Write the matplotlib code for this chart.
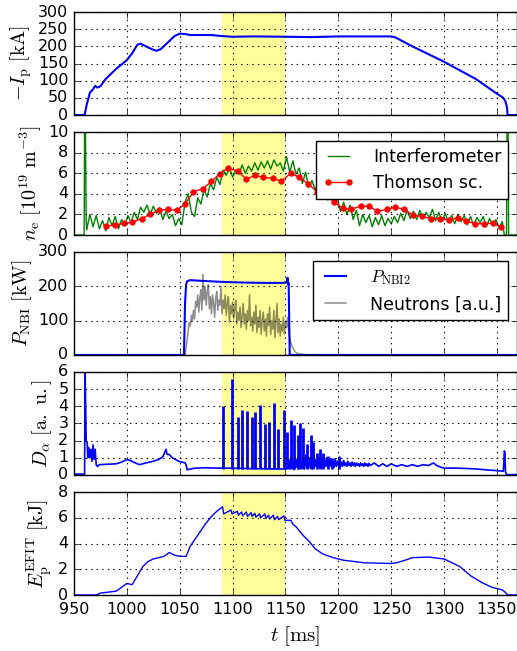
import numpy as np
from matplotlib import pyplot as plt

plt.style.use('classic')
plt.rcParams['mathtext.fontset'] = 'cm'
plt.rcParams['savefig.facecolor'] = 'white'

# plasma current
ip_t = [950, 960, 962, 965, 968, 970, 972, 975, 980, 985, 990, 1000, 1005, 1010, 1013, 1018, 1025,
        1028, 1032, 1040, 1045, 1050, 1055, 1060, 1080, 1090, 1100, 1120, 1150, 1175, 1200, 1225,
        1250, 1254, 1270, 1300, 1330, 1350, 1356, 1358, 1359.5, 1360, 1369]
ip_val = [0, 0, 30, 65, 75, 85, 80, 84, 105, 120, 135, 160, 180, 205, 208, 200, 190,
          187, 192, 215, 230, 237, 236, 233, 233, 230, 228, 229, 228, 227, 229, 229,
          229, 226, 200, 155, 105, 62, 50, 40, 22, 0, 0]

# interferometer density, 3 ms samples from 962 ms
ne_int_start = 962
ne_int = [0.5, 2.0, 0.8, 1.9, 0.6, 1.4, 0.4, 1.7, 0.9, 1.8, 0.6, 1.5, 0.9, 1.9, 1.2, 2.2, 1.5,
          2.7, 2.2, 2.9, 2.0, 2.8, 2.1, 2.6, 1.5, 2.3, 1.6, 2.0, 0.9, 1.6, 1.0, 3.2, 4.0, 2.2,
          1.8, 3.6, 3.0, 4.4, 3.7, 5.0, 4.4, 5.6, 4.9, 6.3, 5.8, 6.6, 5.6, 6.3, 5.9, 6.8, 6.0,
          6.7, 6.2, 7.0, 6.3, 7.1, 6.5, 7.2, 6.4, 7.3, 6.7, 7.0, 6.2, 7.6, 6.1, 7.2, 5.9, 6.5,
          5.0, 6.1, 4.6, 5.3, 4.4, 5.0, 3.6, 4.6, 3.4, 4.0, 3.0, 3.6, 2.3, 3.2, 2.0, 2.9, 1.5,
          2.4, 0.9, 2.0, 1.2, 1.9, 0.8, 1.7, 1.0, 1.9, 0.9, 1.6, 1.1, 1.8, 1.2, 2.1, 1.4, 2.4,
          1.6, 2.3, 1.5, 2.4, 1.6, 2.2, 1.7, 2.5, 1.4, 2.2, 1.3, 2.1, 1.2, 1.9, 1.1, 2.0, 1.3,
          1.9, 1.0, 1.8, 0.9, 1.7, 1.2, 1.8, 0.8, 1.6, 1.0, 1.5, 0.7, 1.3]
ne_head_t = [950, 959.6, 960, 960.8, 961.5]
ne_head = [0, 0, 10.5, 10.5, 1.5]
ne_tail_t = [1357, 1359, 1359.5, 1360.5, 1361, 1369]
ne_tail = [0, 0, 10.5, 10.5, 0, 0]

# Thomson scattering
ts_t = [980, 989, 997, 1005, 1014, 1022, 1030, 1039, 1047, 1055, 1063, 1072, 1080, 1088, 1096,
        1105, 1113, 1121, 1129, 1138, 1146, 1155, 1163, 1171, 1180, 1188, 1196, 1204, 1212,
        1221, 1229, 1237, 1246, 1254, 1262, 1271, 1279, 1288, 1296, 1305, 1313, 1321, 1329,
        1338, 1346, 1354]
ts_val = [0.87, 0.97, 1.13, 1.23, 1.6, 2.0, 2.4, 2.5, 2.4, 3.0, 4.2, 4.5, 5.2, 5.97, 6.5,
          6.2, 5.4, 5.8, 5.6, 5.5, 5.2, 6.0, 5.6, 5.0, 4.2, 3.9, 3.2, 2.6, 2.5,
          2.8, 2.8, 2.3, 2.5, 2.7, 2.5, 1.9, 1.8, 1.6, 1.6, 1.45, 1.7, 1.35, 1.1,
          1.1, 1.15, 0.8]

# NBI power
nbi_t = [950, 1054, 1055, 1056, 1057, 1060, 1070, 1090, 1110, 1130, 1148, 1151, 1152, 1152.5,
         1153, 1154, 1369]
nbi_val = [0, 0, 150, 205, 215, 218, 216, 213, 211, 210, 210, 212, 225, 205, 210, 0, 0]

# neutrons, 1 ms samples from 1055 ms, then slow tail
neu_start = 1055
neu_val = [0, 20, 45, 70, 95, 85, 115, 100, 130, 105, 155, 140, 175, 125, 165, 190, 130, 235,
           160, 200, 145, 185, 205, 135, 170, 120, 175, 150, 110, 165, 185, 130, 160, 145, 200,
           120, 160, 135, 175, 115, 150, 170, 95, 145, 120, 155, 105, 135, 160, 90, 125, 100,
           140, 80, 115, 150, 90, 120, 75, 130, 100, 175, 85, 110, 70, 125, 90, 145, 65, 110,
           80, 130, 60, 100, 125, 70, 105, 55, 120, 85, 140, 60, 100, 75, 130, 50, 95, 150, 65,
           105, 55, 90, 70, 110, 60, 95, 80, 110, 70, 50, 35, 28, 20, 15, 10, 7]
neu_tail_t = [1162, 1165, 1170, 1180]
neu_tail = [4, 2, 1, 0]

# D-alpha background trace
da_t = [950, 960, 960.5, 961.5, 962.5, 963, 964, 965, 966, 967, 968, 969, 970, 971, 972, 974,
        980, 990, 995, 1000, 1003, 1008, 1012, 1018, 1025, 1030, 1034, 1037, 1038, 1040, 1043,
        1046, 1049, 1052, 1055, 1056, 1057, 1060, 1065, 1075, 1085, 1095, 1110, 1130, 1150]
da_val = [0.05, 0.05, 6.0, 2.0, 1.9, 1.0, 1.6, 1.0, 1.5, 0.8, 1.75, 0.9, 1.5, 0.6, 0.5, 0.6,
          0.62, 0.65, 0.75, 0.9, 0.85, 0.7, 0.6, 0.7, 0.8, 0.9, 1.05, 1.5, 1.2, 1.2, 1.0,
          0.9, 0.8, 0.75, 0.7, 0.6, 0.3, 0.35, 0.4, 0.42, 0.4, 0.4, 0.38, 0.36, 0.35]
# 1 ms samples of the turbulent phase after the ELMy phase
da_mid_start = 1152
da_mid = [0.4, 0.9, 0.35, 1.0, 0.4, 0.8, 0.3, 1.1, 0.45, 0.9, 0.35, 1.2, 0.5, 0.8, 0.4, 1.0,
          0.35, 1.15, 0.5, 0.9, 0.4, 1.0, 0.45, 0.85, 0.4, 1.1, 0.5, 0.9, 0.45, 1.0, 0.5, 0.8,
          0.45, 0.95, 0.5, 0.85, 0.5, 1.0, 0.45, 0.8, 0.5, 0.9, 0.5, 0.75, 0.45, 0.95, 0.5, 0.8,
          0.55, 0.9, 0.5, 0.75, 0.5, 0.85, 0.55, 0.7, 0.5, 0.8, 0.55, 0.7, 0.5, 0.75, 0.55, 0.7,
          0.5, 0.7, 0.55, 0.65, 0.5, 0.7, 0.55, 0.65, 0.5, 0.7, 0.55, 0.65, 0.5, 0.68, 0.55]
da_tail_t = [1234, 1238, 1242, 1246, 1250, 1255, 1260, 1265, 1270, 1275, 1280, 1285, 1290, 1293,
             1297, 1300, 1310, 1320, 1330, 1340, 1350, 1356, 1357, 1357.5, 1358, 1359, 1369]
da_tail = [0.7, 0.5, 0.65, 0.5, 0.65, 0.5, 0.6, 0.5, 0.6, 0.5, 0.6, 0.55, 0.7, 0.55,
           0.45, 0.4, 0.4, 0.38, 0.35, 0.3, 0.25, 0.22, 1.4, 1.3, 0.2, 0.02, 0.02]

# ELM peaks
elm_t = [1091, 1099, 1104.7, 1108.8, 1113.2, 1118, 1121.4, 1126, 1130.8, 1134.3, 1138.7, 1143,
         1148.7, 1151.9, 1155, 1158.5, 1161.6, 1163.9, 1167, 1170, 1174, 1176.4, 1179.5,
         1182.7, 1185.2, 1190, 1193.7, 1201]
elm_peak = [4.0, 5.6, 3.4, 3.8, 3.75, 3.35, 3.65, 4.05, 2.95, 3.1, 4.2, 2.65,
            3.8, 2.5, 3.2, 2.9, 2.3, 3.0, 2.75, 1.8, 2.3, 1.9, 1.3,
            1.5, 1.3, 1.1, 1.0, 1.1]

# stored energy (EFIT)
ep_t = [950, 971, 975, 980, 990, 995, 1000, 1005, 1010, 1015, 1020, 1025, 1035, 1040, 1045, 1050,
        1056, 1060, 1065, 1070, 1075, 1080, 1085, 1090.5, 1091.5, 1098.5, 1099.5, 1104.5, 1105.5,
        1108.5, 1109.5, 1113, 1114, 1117.5, 1118.5, 1121, 1122, 1125.5, 1126.5, 1130.5, 1131.5,
        1134, 1135, 1138.5, 1139.5, 1142.5, 1143.5, 1148.5, 1149.5, 1155, 1157, 1160, 1163,
        1167, 1172, 1178, 1185, 1195, 1205, 1215, 1225, 1250, 1255, 1263, 1270, 1285, 1295,
        1300, 1315, 1325, 1335, 1345, 1355, 1358, 1360, 1369]
ep_val = [0, 0, 0.15, 0.2, 0.3, 0.6, 0.9, 0.8, 1.5, 2.2, 2.6, 2.8, 3.0, 3.3, 3.1, 3.0,
          3.0, 3.8, 4.4, 5.0, 5.6, 6.1, 6.5, 6.85, 6.3, 6.6, 6.3, 6.5, 6.2,
          6.45, 6.15, 6.45, 6.1, 6.4, 6.1, 6.35, 6.05, 6.3, 6.0, 6.3, 5.95,
          6.2, 5.9, 6.2, 5.85, 6.1, 5.85, 6.15, 5.8, 5.8, 5.5, 5.3, 5.0,
          4.6, 4.2, 3.6, 3.2, 2.9, 2.7, 2.6, 2.5, 2.45, 2.5, 2.7, 2.9, 2.95, 2.85,
          2.8, 2.2, 1.5, 1.0, 0.6, 0.4, 0.2, 0, 0]

fig = plt.figure(figsize=(5.17, 6.51), dpi=100)
left = 74 / 517.
width = 0.857
height = 103 / 651.
bottoms = [0.8233, 0.639, 0.4547, 0.2704, 0.086]
axes = [fig.add_axes([left, b, width, height]) for b in bottoms]

for ax in axes:
    ax.axvspan(1090, 1150, color='yellow', alpha=0.4, lw=0, zorder=0)
    ax.set_xlim(950, 1369)
    ax.set_xticks(np.arange(950, 1351, 50))
    ax.grid(True, color='k', linestyle=':', linewidth=0.8)
    ax.tick_params(labelsize=11.5, direction='in', length=4)
    ax.tick_params(axis='x', pad=5)
for ax in axes[:-1]:
    ax.set_xticklabels([])

leg_kw = dict(loc='upper right', fontsize=12.5, handlelength=1.8, handletextpad=1.1,
              borderpad=0.4, fancybox=False, numpoints=2)
lab_kw = dict(fontsize=14.5, labelpad=3)

ax = axes[0]
ax.plot(ip_t, ip_val, 'b-', lw=1.5)
ax.set_ylim(0, 300)
ax.set_yticks(np.arange(0, 301, 50))
ax.set_ylabel(r'$-I_\mathrm{p}\ [\mathrm{kA}]$', **lab_kw)

ax = axes[1]
ne_t = list(ne_head_t) + list(ne_int_start + 3 * np.arange(len(ne_int))) + list(ne_tail_t)
ne_v = list(ne_head) + list(ne_int) + list(ne_tail)
ax.plot(ne_t, ne_v, color='g', lw=1.0, label='Interferometer')
ax.plot(ts_t, ts_val, 'r-o', lw=1.0, ms=4, mec='r', label='Thomson sc.')
ax.set_ylim(0, 10)
ax.set_yticks(np.arange(0, 11, 2))
ax.set_ylabel(r'$n_\mathrm{e}\ [10^{19}\ \mathrm{m}^{-3}]$', **lab_kw)
ax.legend(**leg_kw)

ax = axes[2]
neu_t = list(neu_start + np.arange(len(neu_val))) + list(neu_tail_t)
neu_v = list(neu_val) + list(neu_tail)
ax.plot(nbi_t, nbi_val, 'b-', lw=1.5, label=r'$P_\mathrm{NBI2}$')
ax.plot(neu_t, neu_v, color='k', alpha=0.45, lw=1.1, label='Neutrons [a.u.]')
ax.set_ylim(0, 300)
ax.set_yticks([0, 100, 200, 300])
ax.set_ylabel(r'$P_\mathrm{NBI}\ [\mathrm{kW}]$', **lab_kw)
ax.legend(**leg_kw)

ax = axes[3]
da_all_t = list(da_t) + list(da_mid_start + np.arange(len(da_mid))) + list(da_tail_t)
da_all = list(da_val) + list(da_mid) + list(da_tail)
ax.plot(da_all_t, da_all, 'b-', lw=1.2)
ax.vlines(elm_t, 0.35, elm_peak, color='b', lw=2.0)
ax.set_ylim(0, 6)
ax.set_yticks(np.arange(0, 7, 1))
ax.set_ylabel(r'$D_\alpha\ [\mathrm{a.\ u.}]$', **lab_kw)

ax = axes[4]
ax.plot(ep_t, ep_val, 'b-', lw=1.0)
ax.set_ylim(0, 8)
ax.set_yticks(np.arange(0, 9, 2))
ax.set_ylabel(r'$E_\mathrm{p}^\mathrm{EFIT}\ [\mathrm{kJ}]$', **lab_kw)
ax.set_xlabel(r'$t\ [\mathrm{ms}]$', fontsize=15)

fig.savefig('out.png', dpi=100)
